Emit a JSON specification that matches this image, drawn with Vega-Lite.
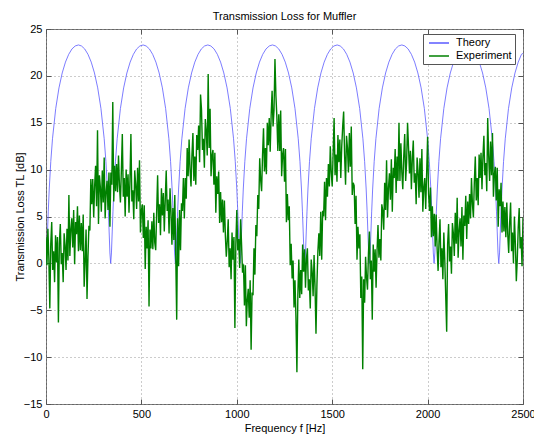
{
"$schema":"https://vega.github.io/schema/vega-lite/v6.json",
"width":477,"height":375,
"autosize":{"type":"none"},
"padding":{"left":46,"top":29,"right":11,"bottom":30},
"background":"white",
"title":{"text":"Transmission Loss for Muffler","font":"Liberation Sans","fontSize":11,"fontWeight":"normal","color":"black","offset":1},
"config":{"view":{"stroke":"#666","strokeWidth":1},
"axis":{"labelFont":"Liberation Sans","labelFontSize":11,"labelColor":"black","titleFont":"Liberation Sans","titleFontSize":11,"titleFontWeight":"normal","titleColor":"black","gridColor":"#999","gridDash":[1,3],"gridOpacity":1,"tickColor":"#555","domain":false,"labelFlush":false,"format":"d"}},
"datasets":{
"theory":[
{"f":0,"t":0},{"f":4,"t":1.11},{"f":8,"t":3.35},{"f":12,"t":5.57},{"f":17,"t":7.93},{"f":25,"t":10.85},{"f":34,"t":13.29},{"f":51,"t":16.52},{"f":68,"t":18.72},{"f":85,"t":20.31},{"f":102,"t":21.47},{"f":119,"t":22.3},{"f":136,"t":22.87},{"f":153,"t":23.19},{"f":170,"t":23.3},{"f":186,"t":23.19},{"f":203,"t":22.87},{"f":220,"t":22.3},{"f":237,"t":21.47},{"f":254,"t":20.31},{"f":271,"t":18.72},{"f":288,"t":16.52},{"f":305,"t":13.29},{"f":314,"t":10.85},{"f":322,"t":7.93},{"f":327,"t":5.57},{"f":331,"t":3.35},{"f":335,"t":1.11},
{"f":339,"t":0},{"f":343,"t":1.11},{"f":347,"t":3.35},{"f":351,"t":5.57},{"f":356,"t":7.93},{"f":364,"t":10.85},{"f":373,"t":13.29},{"f":390,"t":16.52},{"f":407,"t":18.72},{"f":424,"t":20.31},{"f":441,"t":21.47},{"f":458,"t":22.3},{"f":475,"t":22.87},{"f":492,"t":23.19},{"f":509,"t":23.3},{"f":525,"t":23.19},{"f":542,"t":22.87},{"f":559,"t":22.3},{"f":576,"t":21.47},{"f":593,"t":20.31},{"f":610,"t":18.72},{"f":627,"t":16.52},{"f":644,"t":13.29},{"f":653,"t":10.85},{"f":661,"t":7.93},{"f":666,"t":5.57},{"f":670,"t":3.35},{"f":674,"t":1.11},
{"f":678,"t":0},{"f":682,"t":1.11},{"f":686,"t":3.35},{"f":690,"t":5.57},{"f":695,"t":7.93},{"f":703,"t":10.85},{"f":712,"t":13.29},{"f":729,"t":16.52},{"f":746,"t":18.72},{"f":763,"t":20.31},{"f":780,"t":21.47},{"f":797,"t":22.3},{"f":814,"t":22.87},{"f":831,"t":23.19},{"f":848,"t":23.3},{"f":864,"t":23.19},{"f":881,"t":22.87},{"f":898,"t":22.3},{"f":915,"t":21.47},{"f":932,"t":20.31},{"f":949,"t":18.72},{"f":966,"t":16.52},{"f":983,"t":13.29},{"f":992,"t":10.85},{"f":1000,"t":7.93},{"f":1005,"t":5.57},{"f":1009,"t":3.35},{"f":1013,"t":1.11},
{"f":1017,"t":0},{"f":1021,"t":1.11},{"f":1025,"t":3.35},{"f":1029,"t":5.57},{"f":1034,"t":7.93},{"f":1042,"t":10.85},{"f":1051,"t":13.29},{"f":1068,"t":16.52},{"f":1085,"t":18.72},{"f":1102,"t":20.31},{"f":1119,"t":21.47},{"f":1136,"t":22.3},{"f":1153,"t":22.87},{"f":1170,"t":23.19},{"f":1187,"t":23.3},{"f":1203,"t":23.19},{"f":1220,"t":22.87},{"f":1237,"t":22.3},{"f":1254,"t":21.47},{"f":1271,"t":20.31},{"f":1288,"t":18.72},{"f":1305,"t":16.52},{"f":1322,"t":13.29},{"f":1331,"t":10.85},{"f":1339,"t":7.93},{"f":1344,"t":5.57},{"f":1348,"t":3.35},{"f":1352,"t":1.11},
{"f":1356,"t":0},{"f":1360,"t":1.11},{"f":1364,"t":3.35},{"f":1368,"t":5.57},{"f":1373,"t":7.93},{"f":1381,"t":10.85},{"f":1390,"t":13.29},{"f":1407,"t":16.52},{"f":1424,"t":18.72},{"f":1441,"t":20.31},{"f":1458,"t":21.47},{"f":1475,"t":22.3},{"f":1492,"t":22.87},{"f":1509,"t":23.19},{"f":1526,"t":23.3},{"f":1542,"t":23.19},{"f":1559,"t":22.87},{"f":1576,"t":22.3},{"f":1593,"t":21.47},{"f":1610,"t":20.31},{"f":1627,"t":18.72},{"f":1644,"t":16.52},{"f":1661,"t":13.29},{"f":1670,"t":10.85},{"f":1678,"t":7.93},{"f":1683,"t":5.57},{"f":1687,"t":3.35},{"f":1691,"t":1.11},
{"f":1695,"t":0},{"f":1699,"t":1.11},{"f":1703,"t":3.35},{"f":1707,"t":5.57},{"f":1712,"t":7.93},{"f":1720,"t":10.85},{"f":1729,"t":13.29},{"f":1746,"t":16.52},{"f":1763,"t":18.72},{"f":1780,"t":20.31},{"f":1797,"t":21.47},{"f":1814,"t":22.3},{"f":1831,"t":22.87},{"f":1848,"t":23.19},{"f":1865,"t":23.3},{"f":1881,"t":23.19},{"f":1898,"t":22.87},{"f":1915,"t":22.3},{"f":1932,"t":21.47},{"f":1949,"t":20.31},{"f":1966,"t":18.72},{"f":1983,"t":16.52},{"f":2000,"t":13.29},{"f":2009,"t":10.85},{"f":2017,"t":7.93},{"f":2022,"t":5.57},{"f":2026,"t":3.35},{"f":2030,"t":1.11},
{"f":2034,"t":0},{"f":2038,"t":1.11},{"f":2042,"t":3.35},{"f":2046,"t":5.57},{"f":2051,"t":7.93},{"f":2059,"t":10.85},{"f":2068,"t":13.29},{"f":2085,"t":16.52},{"f":2102,"t":18.72},{"f":2119,"t":20.31},{"f":2136,"t":21.47},{"f":2153,"t":22.3},{"f":2170,"t":22.87},{"f":2187,"t":23.19},{"f":2204,"t":23.3},{"f":2220,"t":23.19},{"f":2237,"t":22.87},{"f":2254,"t":22.3},{"f":2271,"t":21.47},{"f":2288,"t":20.31},{"f":2305,"t":18.72},{"f":2322,"t":16.52},{"f":2339,"t":13.29},{"f":2348,"t":10.85},{"f":2356,"t":7.93},{"f":2361,"t":5.57},{"f":2365,"t":3.35},{"f":2369,"t":1.11},
{"f":2373,"t":0},{"f":2377,"t":1.11},{"f":2381,"t":3.35},{"f":2385,"t":5.57},{"f":2390,"t":7.93},{"f":2398,"t":10.85},{"f":2407,"t":13.29},{"f":2424,"t":16.52},{"f":2441,"t":18.72},{"f":2458,"t":20.31},{"f":2475,"t":21.47},{"f":2492,"t":22.3},{"f":2500,"t":22.4}
],
"exp":[
{"f":0,"e":2.8},{"f":5,"e":-0.2},{"f":10,"e":3.7},{"f":15,"e":0.5},{"f":20,"e":-4.8},{"f":25,"e":2.1},{"f":30,"e":4.4},{"f":35,"e":-0.7},{"f":40,"e":1.3},{"f":45,"e":-2.0},{"f":50,"e":3.0},{"f":55,"e":0.1},
{"f":60,"e":2.8},{"f":65,"e":-6.3},{"f":70,"e":2.1},{"f":75,"e":4.2},{"f":80,"e":-0.1},{"f":85,"e":1.1},{"f":90,"e":-2.0},{"f":95,"e":3.2},{"f":100,"e":1.9},{"f":105,"e":-0.7},{"f":110,"e":3.7},{"f":115,"e":0.3},
{"f":120,"e":7.3},{"f":125,"e":0.8},{"f":130,"e":3.6},{"f":135,"e":4.8},{"f":140,"e":1.7},{"f":145,"e":5.7},{"f":150,"e":-0.1},{"f":155,"e":4.4},{"f":160,"e":3.1},{"f":165,"e":6.1},{"f":170,"e":1.3},{"f":175,"e":5.1},
{"f":180,"e":1.4},{"f":185,"e":4.3},{"f":190,"e":1.3},{"f":195,"e":5.2},{"f":200,"e":-2.5},{"f":205,"e":0.2},{"f":210,"e":3.6},{"f":215,"e":-3.8},{"f":220,"e":0.8},{"f":225,"e":4.0},
{"f":230,"e":3.5},{"f":235,"e":9.0},{"f":240,"e":6.3},{"f":245,"e":9.0},{"f":250,"e":4.9},{"f":255,"e":8.3},{"f":260,"e":10.4},{"f":265,"e":6.1},{"f":270,"e":14.2},{"f":275,"e":4.2},{"f":280,"e":9.4},{"f":285,"e":8.1},{"f":290,"e":5.5},{"f":295,"e":9.9},{"f":300,"e":6.5},{"f":305,"e":11.3},{"f":310,"e":4.8},{"f":315,"e":7.6},{"f":320,"e":8.8},{"f":325,"e":5.7},{"f":330,"e":9.7},{"f":335,"e":3.9},
{"f":340,"e":9.7},{"f":345,"e":8.4},{"f":350,"e":17.2},{"f":355,"e":6.6},{"f":360,"e":10.4},{"f":365,"e":7.7},{"f":370,"e":10.6},{"f":375,"e":7.6},{"f":380,"e":11.5},{"f":385,"e":8.3},{"f":390,"e":6.5},{"f":395,"e":9.9},{"f":400,"e":13.8},{"f":405,"e":7.1},{"f":410,"e":9.1},
{"f":415,"e":5.0},{"f":420,"e":10.0},{"f":425,"e":7.1},{"f":430,"e":9.5},{"f":435,"e":5.4},{"f":440,"e":8.8},{"f":445,"e":13.8},{"f":450,"e":6.6},{"f":455,"e":7.8},{"f":460,"e":4.7},{"f":465,"e":9.9},{"f":470,"e":8.4},{"f":475,"e":5.8},{"f":480,"e":10.2},{"f":485,"e":6.6},{"f":490,"e":11.0},
{"f":495,"e":3.3},{"f":500,"e":5.6},{"f":505,"e":6.3},{"f":510,"e":2.7},{"f":515,"e":6.2},{"f":520,"e":-0.6},{"f":525,"e":3.9},{"f":530,"e":1.6},{"f":535,"e":4.6},{"f":540,"e":-4.6},{"f":545,"e":3.6},
{"f":550,"e":1.6},{"f":555,"e":4.5},{"f":560,"e":1.5},{"f":565,"e":5.4},{"f":570,"e":2.2},{"f":575,"e":1.4},{"f":580,"e":5.5},
{"f":585,"e":9.4},{"f":590,"e":4.3},{"f":595,"e":6.3},{"f":600,"e":3.0},{"f":605,"e":8.0},{"f":610,"e":5.1},{"f":615,"e":7.5},{"f":620,"e":3.4},{"f":625,"e":6.8},
{"f":630,"e":9.9},{"f":635,"e":5.6},{"f":640,"e":6.8},{"f":645,"e":3.2},{"f":650,"e":8.0},
{"f":655,"e":5.5},{"f":660,"e":2.0},{"f":665,"e":5.9},{"f":670,"e":2.5},{"f":675,"e":7.3},{"f":680,"e":0.8},{"f":685,"e":-6.0},{"f":690,"e":4.8},{"f":695,"e":-0.3},{"f":700,"e":5.7},
{"f":705,"e":1.4},{"f":710,"e":6.4},{"f":715,"e":5.6},{"f":720,"e":9.1},{"f":725,"e":4.8},{"f":730,"e":9.1},{"f":735,"e":6.9},
{"f":740,"e":12.3},{"f":745,"e":9.3},{"f":750,"e":13.2},{"f":755,"e":10.0},{"f":760,"e":8.2},{"f":765,"e":11.6},{"f":770,"e":13.9},{"f":775,"e":8.8},{"f":780,"e":11.4},{"f":785,"e":8.4},{"f":790,"e":13.7},
{"f":795,"e":12.1},{"f":800,"e":14.7},{"f":805,"e":10.8},{"f":810,"e":18.0},{"f":815,"e":16.4},{"f":820,"e":12.1},{"f":825,"e":13.3},{"f":830,"e":10.2},{"f":835,"e":15.4},{"f":840,"e":14.1},{"f":845,"e":11.5},{"f":850,"e":20.2},{"f":855,"e":12.3},{"f":860,"e":16.5},
{"f":865,"e":9.3},{"f":870,"e":11.5},{"f":875,"e":12.1},{"f":880,"e":8.4},{"f":885,"e":11.8},{"f":890,"e":5.4},{"f":895,"e":9.3},{"f":900,"e":7.4},{"f":905,"e":9.8},
{"f":910,"e":4.3},{"f":915,"e":7.6},{"f":920,"e":4.4},{"f":925,"e":6.8},{"f":930,"e":3.3},{"f":935,"e":6.7},{"f":940,"e":3.0},{"f":945,"e":0.7},
{"f":950,"e":2.4},{"f":955,"e":4.7},{"f":960,"e":-0.4},{"f":965,"e":1.6},{"f":970,"e":-1.7},{"f":975,"e":3.3},{"f":980,"e":0.4},{"f":985,"e":2.8},{"f":990,"e":-6.9},{"f":995,"e":2.1},
{"f":1000,"e":5.7},{"f":1005,"e":1.4},{"f":1010,"e":2.6},{"f":1015,"e":-0.5},{"f":1020,"e":4.7},{"f":1025,"e":2.0},{"f":1030,"e":-1.0},
{"f":1035,"e":-0.1},{"f":1040,"e":-4.5},{"f":1045,"e":-0.2},{"f":1050,"e":-6.7},{"f":1055,"e":-3.9},{"f":1060,"e":-2.7},{"f":1065,"e":-5.8},{"f":1070,"e":-1.8},{"f":1075,"e":-9.2},{"f":1080,"e":-3.1},{"f":1085,"e":-3.4},
{"f":1090,"e":1.6},{"f":1095,"e":-1.2},{"f":1100,"e":4.1},{"f":1105,"e":2.9},{"f":1110,"e":7.3},{"f":1115,"e":5.8},{"f":1120,"e":11.2},
{"f":1125,"e":8.9},{"f":1130,"e":7.7},{"f":1135,"e":11.6},{"f":1140,"e":14.4},{"f":1145,"e":9.8},{"f":1150,"e":12.3},{"f":1155,"e":9.5},
{"f":1160,"e":15.0},{"f":1165,"e":12.6},{"f":1170,"e":15.5},{"f":1175,"e":11.9},{"f":1180,"e":15.8},{"f":1185,"e":18.4},{"f":1190,"e":14.6},{"f":1195,"e":16.3},{"f":1200,"e":21.8},{"f":1205,"e":17.9},
{"f":1210,"e":15.6},{"f":1215,"e":12.0},{"f":1220,"e":15.9},{"f":1225,"e":12.0},{"f":1230,"e":16.3},{"f":1235,"e":9.3},{"f":1240,"e":11.6},{"f":1245,"e":12.3},{"f":1250,"e":8.7},{"f":1255,"e":12.2},
{"f":1260,"e":4.4},{"f":1265,"e":7.4},{"f":1270,"e":4.6},{"f":1275,"e":6.1},{"f":1280,"e":-0.2},{"f":1285,"e":2.1},{"f":1290,"e":-1.6},{"f":1295,"e":0.3},
{"f":1300,"e":-4.7},{"f":1305,"e":-1.8},{"f":1310,"e":-5.8},{"f":1315,"e":-11.6},{"f":1320,"e":-3.4},
{"f":1325,"e":0.4},{"f":1330,"e":-3.7},{"f":1335,"e":-0.7},{"f":1340,"e":-3.3},{"f":1345,"e":2.0},{"f":1350,"e":-0.9},{"f":1355,"e":1.5},{"f":1360,"e":-2.6},{"f":1365,"e":0.5},
{"f":1370,"e":1.6},{"f":1375,"e":-2.9},{"f":1380,"e":-1.7},{"f":1385,"e":-4.8},{"f":1390,"e":0.4},{"f":1395,"e":-0.9},{"f":1400,"e":-3.5},{"f":1405,"e":0.9},{"f":1410,"e":-2.5},{"f":1415,"e":-7.5},
{"f":1420,"e":-2.2},{"f":1425,"e":1.3},{"f":1430,"e":3.2},{"f":1435,"e":0.8},{"f":1440,"e":5.5},{"f":1445,"e":0.4},{"f":1450,"e":5.6},{"f":1455,"e":5.0},{"f":1460,"e":8.7},{"f":1465,"e":4.6},
{"f":1470,"e":9.1},{"f":1475,"e":7.1},{"f":1480,"e":10.6},{"f":1485,"e":8.2},{"f":1490,"e":12.5},{"f":1495,"e":9.7},{"f":1500,"e":8.2},{"f":1505,"e":11.8},{"f":1510,"e":15.5},{"f":1515,"e":9.4},{"f":1520,"e":11.6},
{"f":1525,"e":8.7},{"f":1530,"e":13.7},{"f":1535,"e":10.8},{"f":1540,"e":13.2},{"f":1545,"e":9.1},{"f":1550,"e":12.5},{"f":1555,"e":14.6},{"f":1560,"e":16.2},{"f":1565,"e":11.5},{"f":1570,"e":8.4},{"f":1575,"e":13.6},{"f":1580,"e":12.3},{"f":1585,"e":9.7},{"f":1590,"e":13.9},{"f":1595,"e":10.3},{"f":1600,"e":14.6},{"f":1605,"e":7.3},
{"f":1610,"e":8.6},{"f":1615,"e":8.3},{"f":1620,"e":4.2},{"f":1625,"e":7.2},{"f":1630,"e":0.4},{"f":1635,"e":3.9},{"f":1640,"e":1.6},
{"f":1645,"e":3.1},{"f":1650,"e":-3.7},{"f":1655,"e":-1.4},{"f":1660,"e":-11.3},{"f":1665,"e":-1.7},{"f":1670,"e":-4.2},{"f":1675,"e":0.7},
{"f":1680,"e":-1.5},{"f":1685,"e":-2.8},{"f":1690,"e":1.1},{"f":1695,"e":3.4},{"f":1700,"e":-1.7},{"f":1705,"e":0.3},{"f":1710,"e":-6.0},{"f":1715,"e":2.0},{"f":1720,"e":-0.9},{"f":1725,"e":1.5},{"f":1730,"e":-2.6},{"f":1735,"e":1.3},{"f":1740,"e":4.1},{"f":1745,"e":0.6},
{"f":1750,"e":2.6},{"f":1755,"e":0.3},{"f":1760,"e":6.3},{"f":1765,"e":5.6},{"f":1770,"e":3.6},{"f":1775,"e":8.6},{"f":1780,"e":5.7},{"f":1785,"e":11.0},{"f":1790,"e":4.9},{"f":1795,"e":8.1},{"f":1800,"e":9.6},
{"f":1805,"e":6.8},{"f":1810,"e":11.1},{"f":1815,"e":5.5},{"f":1820,"e":10.2},{"f":1825,"e":9.1},{"f":1830,"e":12.2},{"f":1835,"e":7.5},{"f":1840,"e":11.4},{"f":1845,"e":8.8},{"f":1850,"e":15.0},{"f":1855,"e":8.8},{"f":1860,"e":12.8},{"f":1865,"e":9.7},{"f":1870,"e":7.9},{"f":1875,"e":11.4},{"f":1880,"e":13.8},
{"f":1885,"e":8.8},{"f":1890,"e":10.8},{"f":1895,"e":15.0},{"f":1900,"e":12.4},{"f":1905,"e":9.6},{"f":1910,"e":12.0},{"f":1915,"e":7.9},{"f":1920,"e":11.2},{"f":1925,"e":13.1},{"f":1930,"e":8.6},{"f":1935,"e":9.6},{"f":1940,"e":6.3},
{"f":1945,"e":11.3},{"f":1950,"e":9.8},{"f":1955,"e":7.0},{"f":1960,"e":11.2},{"f":1965,"e":7.6},{"f":1970,"e":12.2},{"f":1975,"e":5.5},{"f":1980,"e":8.1},{"f":1985,"e":9.1},{"f":1990,"e":5.8},{"f":1995,"e":9.6},{"f":2000,"e":13.5},
{"f":2005,"e":7.4},{"f":2010,"e":5.6},{"f":2015,"e":8.1},{"f":2020,"e":2.8},{"f":2025,"e":6.1},{"f":2030,"e":2.9},{"f":2035,"e":5.3},{"f":2040,"e":1.8},{"f":2045,"e":5.2},
{"f":2050,"e":1.5},{"f":2055,"e":-0.8},{"f":2060,"e":2.4},{"f":2065,"e":4.7},{"f":2070,"e":-0.4},{"f":2075,"e":1.6},{"f":2080,"e":-1.7},{"f":2085,"e":3.3},{"f":2090,"e":0.4},{"f":2095,"e":-3.5},{"f":2100,"e":-7.3},{"f":2105,"e":2.1},{"f":2110,"e":4.2},{"f":2115,"e":0.2},
{"f":2120,"e":1.8},{"f":2125,"e":-1.1},{"f":2130,"e":4.3},{"f":2135,"e":3.2},{"f":2140,"e":0.8},{"f":2145,"e":5.4},{"f":2150,"e":2.1},{"f":2155,"e":7.0},{"f":2160,"e":0.6},{"f":2165,"e":3.5},{"f":2170,"e":4.8},{"f":2175,"e":1.8},{"f":2180,"e":6.0},{"f":2185,"e":0.4},{"f":2190,"e":5.1},{"f":2195,"e":4.0},{"f":2200,"e":7.2},{"f":2205,"e":2.6},{"f":2210,"e":6.6},{"f":2215,"e":4.2},{"f":2220,"e":7.4},
{"f":2225,"e":4.8},{"f":2230,"e":9.1},{"f":2235,"e":6.3},{"f":2240,"e":4.9},{"f":2245,"e":8.7},{"f":2250,"e":11.4},{"f":2255,"e":6.7},{"f":2260,"e":9.1},{"f":2265,"e":6.2},{"f":2270,"e":11.6},
{"f":2275,"e":9.1},{"f":2280,"e":11.8},{"f":2285,"e":7.9},{"f":2290,"e":11.4},{"f":2295,"e":13.6},{"f":2300,"e":9.4},{"f":2305,"e":10.7},{"f":2310,"e":7.7},{"f":2315,"e":15.5},{"f":2320,"e":11.5},{"f":2325,"e":8.8},{"f":2330,"e":13.0},{"f":2335,"e":9.4},{"f":2340,"e":13.9},{"f":2345,"e":7.1},{"f":2350,"e":9.5},{"f":2355,"e":10.3},
{"f":2360,"e":6.7},{"f":2365,"e":10.2},{"f":2370,"e":3.9},{"f":2375,"e":7.9},{"f":2380,"e":6.1},{"f":2385,"e":8.6},{"f":2390,"e":3.3},{"f":2395,"e":6.6},{"f":2400,"e":3.4},{"f":2405,"e":6.0},{"f":2410,"e":2.8},
{"f":2415,"e":6.5},{"f":2420,"e":3.1},{"f":2425,"e":1.1},{"f":2430,"e":4.3},{"f":2435,"e":6.5},{"f":2440,"e":1.3},{"f":2445,"e":3.3},{"f":2450,"e":0.0},{"f":2455,"e":5.0},{"f":2460,"e":2.1},{"f":2465,"e":-1.9},{"f":2470,"e":0.4},{"f":2475,"e":3.8},{"f":2480,"e":5.9},{"f":2485,"e":1.6},{"f":2490,"e":2.8},{"f":2495,"e":-0.3},{"f":2500,"e":4.9}
]},
"layer":[
{"data":{"name":"theory"},
 "mark":{"type":"line","strokeWidth":0.8,"clip":true},
 "encoding":{
  "x":{"field":"f","type":"quantitative","scale":{"domain":[0,2500],"nice":false,"zero":false},
       "axis":{"orient":"bottom","values":[0,500,1000,1500,2000,2500],"title":"Frequency f [Hz]","grid":true,"tickSize":-5,"labelPadding":9,"titlePadding":3}},
  "y":{"field":"t","type":"quantitative","scale":{"domain":[-15,25],"nice":false,"zero":false},
       "axis":{"orient":"left","values":[-15,-10,-5,0,5,10,15,20,25],"title":"Transmission Loss TL [dB]","grid":true,"tickSize":-5,"labelPadding":9,"titlePadding":-2}},
  "color":{"datum":"Theory","type":"nominal","scale":{"domain":["Theory","Experiment"],"range":["#5a5aff","#008000"]},
    "legend":{"title":null,"orient":"none","legendX":377,"legendY":5,"fillColor":"white","strokeColor":"#555","padding":3,"symbolType":"M-2,0H2","symbolSize":100,"symbolOffset":7,"symbolStrokeWidth":1.5,"labelFont":"Liberation Sans","labelFontSize":11,"labelColor":"black","rowPadding":2,"labelOffset":11}}
 }},
{"data":{"name":"exp"},
 "mark":{"type":"line","strokeWidth":1.4,"clip":true},
 "encoding":{
  "x":{"field":"f","type":"quantitative","scale":{"domain":[0,2500],"nice":false,"zero":false},
       "axis":{"orient":"top","values":[0,500,1000,1500,2000,2500],"title":null,"labels":false,"grid":false,"tickSize":-5}},
  "y":{"field":"e","type":"quantitative","scale":{"domain":[-15,25],"nice":false,"zero":false},
       "axis":{"orient":"right","values":[-15,-10,-5,0,5,10,15,20,25],"title":null,"labels":false,"grid":false,"tickSize":-5}},
  "color":{"datum":"Experiment","type":"nominal"}
 }}
],
"resolve":{"axis":{"x":"independent","y":"independent"}}
}
